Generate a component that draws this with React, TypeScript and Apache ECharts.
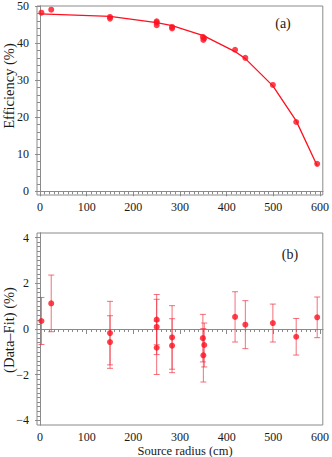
import React, { useEffect, useRef } from 'react';
import * as echarts from 'echarts';

// Source radius (cm) of each measurement
const radius = [3, 24, 150, 150, 250, 250, 250, 283, 283, 349, 352, 350, 418, 440, 499, 549, 594];
// Measured efficiency (%)
const efficiency = [48.2, 49.0, 47.05, 46.6, 45.85, 45.55, 44.8, 44.35, 43.95, 41.65, 41.3, 40.85, 38.2, 36.0, 28.7, 18.7, 7.4];
// Fitted curve
const fitRadius = [0, 150, 250, 283, 350, 418, 440, 499, 549, 594];
const fitEfficiency = [47.9, 47.2, 45.5, 44.7, 42.0, 37.7, 35.8, 28.45, 19.0, 6.9];
// Residuals (Data - Fit) and their errors (%)
const residual = [0.35, 1.12, -0.18, -0.57, 0.41, 0.09, -0.82, -0.37, -0.73, -0.4, -0.7, -1.15, 0.53, 0.19, 0.26, -0.34, 0.51];
const residualError = [1.03, 1.24, 1.39, 1.15, 1.1, 1.21, 1.17, 1.39, 1.18, 1.04, 0.96, 1.17, 1.1, 1.05, 0.83, 0.8, 0.89];

// Tick labels
const xTicks = [0, 100, 200, 300, 400, 500, 600];
const effTicks = [0, 10, 20, 30, 40, 50];
const resTicks = [-4, -2, 0, 2, 4];

const range = (a: number, b: number, step: number) => {
  const out: number[] = [];
  const n = Math.round((b - a) / step);
  for (let i = 0; i <= n; i++) out.push(Math.round((a + i * step) * 1000) / 1000);
  return out;
};
const xMinor = range(0, 600, 10);
const effMinor = range(0, 50, 2);
const resMinor = range(-4, 4, 0.2);

const FONT = '"Liberation Serif", "DejaVu Serif", serif';
const FRAME = '#8a8a8a';
const RED = '#ff1020';

export default function App() {
  const ref = useRef<HTMLDivElement>(null);
  useEffect(() => {
    if (!ref.current) return;
    const chart = echarts.init(ref.current, null, { renderer: 'svg' });

    const gridTop = { left: 37, right: 8, top: 6, height: 189, show: true, borderColor: FRAME, borderWidth: 1 };
    const gridBot = { left: 37, right: 8, top: 233, height: 192, show: true, borderColor: FRAME, borderWidth: 1 };

    const mainX = (gridIndex: number) => ({
      type: 'value', gridIndex, min: -6.5, max: 606, position: 'bottom',
      axisLine: { show: true, lineStyle: { color: FRAME } },
      axisTick: { show: true, length: 5, customValues: xTicks, lineStyle: { color: FRAME } },
      axisLabel: { show: true, customValues: xTicks, margin: 6, fontFamily: FONT, fontSize: 12, lineHeight: 12, color: '#1a1a1a' },
      splitLine: { show: false },
    });
    const minorX = (gridIndex: number) => ({
      type: 'value', gridIndex, min: -6.5, max: 606, position: 'bottom',
      axisLine: { show: true, lineStyle: { color: FRAME } },
      axisTick: { show: true, length: 3, customValues: xMinor, lineStyle: { color: FRAME } },
      axisLabel: { show: false },
      splitLine: { show: false },
    });
    const mainY = (gridIndex: number, min: number, max: number, ticks: number[]) => ({
      type: 'value', gridIndex, min, max, position: 'left',
      axisLine: { show: true, lineStyle: { color: FRAME } },
      axisTick: { show: true, length: 5, customValues: ticks, lineStyle: { color: FRAME } },
      axisLabel: {
        show: true, customValues: ticks, margin: 8, fontFamily: FONT, fontSize: 12, lineHeight: 12, color: '#1a1a1a',
        formatter: (v: number) => (v < 0 ? '\u2212' + Math.abs(v) : String(v)),
      },
      splitLine: { show: false },
    });
    const minorY = (gridIndex: number, min: number, max: number, ticks: number[]) => ({
      type: 'value', gridIndex, min, max, position: 'left',
      axisLine: { show: true, lineStyle: { color: FRAME } },
      axisTick: { show: true, length: 3, customValues: ticks, lineStyle: { color: FRAME } },
      axisLabel: { show: false },
      splitLine: { show: false },
    });

    const errColor = 'rgba(240, 50, 65, 0.7)';

    chart.setOption({
      animation: false,
      backgroundColor: '#ffffff',
      grid: [gridTop, gridBot],
      xAxis: [mainX(0), minorX(0), mainX(1), minorX(1)],
      yAxis: [
        mainY(0, -1, 50, effTicks),
        minorY(0, -1, 50, effMinor),
        mainY(1, -4.2, 4.2, resTicks),
        minorY(1, -4.2, 4.2, resMinor),
      ],
      series: [
        {
          type: 'line', xAxisIndex: 0, yAxisIndex: 0,
          data: fitRadius.map((r, i) => [r, fitEfficiency[i]]),
          showSymbol: false, symbol: 'none',
          lineStyle: { color: RED, width: 1.3 },
          z: 2,
        },
        {
          type: 'scatter', xAxisIndex: 0, yAxisIndex: 0,
          data: radius.map((r, i) => [r, efficiency[i]]),
          symbolSize: 6, itemStyle: { color: RED },
          z: 3,
        },
        {
          type: 'custom', xAxisIndex: 2, yAxisIndex: 2,
          data: radius.map((r, i) => [r, residual[i], residualError[i]]),
          encode: { x: 0, y: 1 },
          renderItem: (params: any, api: any) => {
            const x = api.value(0);
            const y = api.value(1);
            const e = api.value(2);
            const top = api.coord([x, y + e]);
            const bot = api.coord([x, y - e]);
            const hw = 3;
            const style = { stroke: errColor, lineWidth: 1 };
            return {
              type: 'group',
              children: [
                { type: 'line', shape: { x1: top[0], y1: top[1], x2: bot[0], y2: bot[1] }, style },
                { type: 'line', shape: { x1: top[0] - hw, y1: top[1], x2: top[0] + hw, y2: top[1] }, style },
                { type: 'line', shape: { x1: bot[0] - hw, y1: bot[1], x2: bot[0] + hw, y2: bot[1] }, style },
              ],
            };
          },
          z: 2,
        },
        {
          type: 'scatter', xAxisIndex: 2, yAxisIndex: 2,
          data: radius.map((r, i) => [r, residual[i]]),
          symbolSize: 6, itemStyle: { color: RED },
          z: 3,
          markLine: {
            silent: true, symbol: 'none', label: { show: false },
            lineStyle: { color: FRAME, type: 'solid', width: 1 },
            data: [{ yAxis: 0 }],
            z: 1,
          },
        },
      ],
      graphic: [
        {
          type: 'text', x: 9, y: 86, rotation: Math.PI / 2,
          style: { text: 'Efficiency (%)', font: `14.5px ${FONT}`, fill: '#1a1a1a', align: 'center', verticalAlign: 'middle' },
        },
        {
          type: 'text', x: 9, y: 330, rotation: Math.PI / 2,
          style: { text: '(Data\u2013Fit) (%)', font: `14.5px ${FONT}`, fill: '#1a1a1a', align: 'center', verticalAlign: 'middle' },
        },
        {
          type: 'text', x: 185, y: 451,
          style: { text: 'Source radius (cm)', font: `12.5px ${FONT}`, lineHeight: 12.5, fill: '#1a1a1a', align: 'center', verticalAlign: 'middle' },
        },
        {
          type: 'text', x: 283, y: 23,
          style: { text: '(a)', font: `14px ${FONT}`, fill: '#1a1a1a', align: 'center', verticalAlign: 'middle' },
        },
        {
          type: 'text', x: 290, y: 254,
          style: { text: '(b)', font: `14px ${FONT}`, fill: '#1a1a1a', align: 'center', verticalAlign: 'middle' },
        },
      ],
    });
    return () => chart.dispose();
  }, []);
  return <div ref={ref} style={{ position: 'fixed', left: 0, top: 0, width: 332, height: 457 }} />;
}
